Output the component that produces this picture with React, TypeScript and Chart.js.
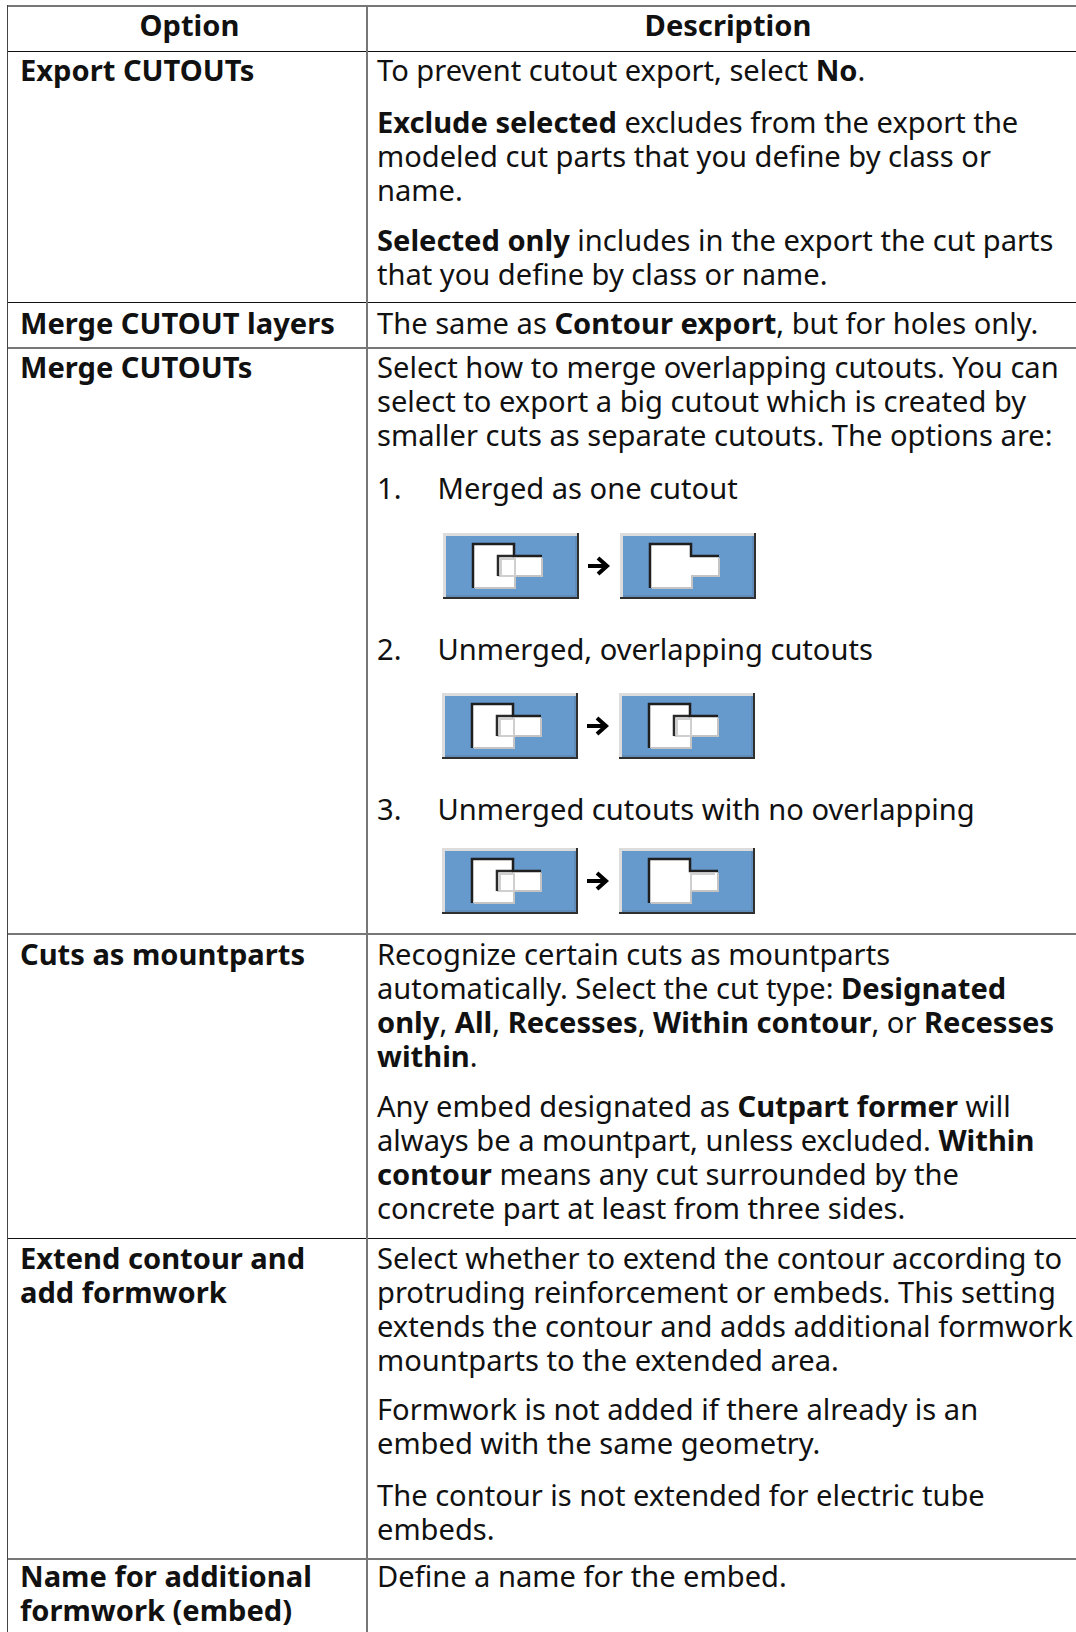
import React, { useEffect, useRef } from "react";
import { Chart, registerables } from "chart.js";

Chart.register(...registerables);

type Pt = { x: number; y: number };
const P = (pairs: number[][]): Pt[] => pairs.map(([x, y]) => ({ x, y }));

const headers = ["Option", "Description"];

const optionNames = [
  ["Export CUTOUTs"],
  ["Merge CUTOUT layers"],
  ["Merge CUTOUTs"],
  ["Cuts as mountparts"],
  ["Extend contour and", "add formwork"],
  ["Name for additional", "formwork (embed)"],
];

const exportDesc = [
  ["To prevent cutout export, select **No**."],
  ["**Exclude selected** excludes from the export the", "modeled cut parts that you define by class or", "name."],
  ["**Selected only** includes in the export the cut parts", "that you define by class or name."],
];
const mergeLayersDesc = [["The same as **Contour export**, but for holes only."]];
const mergeCutoutsDesc = [
  "Select how to merge overlapping cutouts. You can",
  "select to export a big cutout which is created by",
  "smaller cuts as separate cutouts. The options are:",
];
const mergeSteps = ["Merged as one cutout", "Unmerged, overlapping cutouts", "Unmerged cutouts with no overlapping"];
const mountDesc = [
  ["Recognize certain cuts as mountparts", "automatically. Select the cut type: **Designated**", "**only**, **All**, **Recesses**, **Within contour**, or **Recesses**", "**within**."],
  ["Any embed designated as **Cutpart former** will", "always be a mountpart, unless excluded. **Within**", "**contour** means any cut surrounded by the", "concrete part at least from three sides."],
];
const extendDesc = [
  ["Select whether to extend the contour according to", "protruding reinforcement or embeds. This setting", "extends the contour and adds additional formwork", "mountparts to the extended area."],
  ["Formwork is not added if there already is an", "embed with the same geometry."],
  ["The contour is not extended for electric tube", "embeds."],
];
const nameDesc = [["Define a name for the embed."]];

// Icon geometry in icon units: a 136 x 66 button, a cut outline drawn on it
const buttonFace = P([[0, 0], [136, 0], [136, 66], [0, 66], [0, 0]]);
const buttonLight = P([[1.5, 65], [1.5, 1.5], [135, 1.5]]);
const buttonDark = P([[0, 65], [135, 65], [135, 0]]);
const buttonShade = P([[3, 63], [133, 63], [133, 3]]);
const bigCut = P([[30, 11], [71, 11], [71, 23], [99, 23], [99, 43], [71, 43], [71, 55], [30, 55], [30, 11]]);
const outerDark = P([[30, 55], [30, 11], [71, 11], [71, 23], [99, 23]]);
const outerLight = P([[32, 55], [72, 55], [72, 43], [99, 43], [99, 25]]);
const overlapDark = P([[55, 43], [55, 23], [71, 23]]);
const overlapLight = P([[58, 43], [58, 26], [71, 26]]);
const overlapBottom = P([[55, 43], [72, 43]]);
const overlapRight = P([[72, 25], [72, 43]]);
const rightInner = P([[73, 26], [96, 26]]);
const arrowShaft = P([[145, 33], [164, 33]]);
const arrowHead = P([[155, 25], [164, 33], [155, 41]]);

const ICON_OFFSET = 177;
const shift = (pts: Pt[], dx: number) => pts.map((p) => ({ x: p.x + dx, y: p.y }));

type Variant = "merged" | "overlap" | "separate";

function buildDatasets(variant: Variant) {
  const line = (data: Pt[], color: string, width: number) => ({
    type: "scatter" as const,
    data,
    showLine: true,
    borderColor: color,
    borderWidth: width,
    pointRadius: 0,
    tension: 0,
    fill: false,
  });
  const face = (data: Pt[], color: string) => ({
    ...line(data, color, 0),
    fill: "shape" as const,
    backgroundColor: color,
  });
  const button = (dx: number, v: Variant | "source") => {
    const items: any[] = [
      face(shift(buttonFace, dx), "#6699cc"),
      line(shift(buttonLight, dx), "#dcdcdc", 3),
      line(shift(buttonShade, dx), "#5a7ea6", 1),
      line(shift(buttonDark, dx), "#2f2f2f", 2),
      face(shift(bigCut, dx), "#ffffff"),
      line(shift(outerLight, dx), "#c4c4c4", 2),
    ];
    if (v === "source" || v === "overlap") {
      items.push(
        line(shift(overlapBottom, dx), "#cfcfcf", 2),
        line(shift(overlapRight, dx), "#cfcfcf", 2),
        line(shift(overlapLight, dx), "#d0d0d0", 2),
        line(shift(overlapDark, dx), "#2a2a2a", 2.5)
      );
    }
    if (v === "separate") {
      items.push(line(shift(overlapRight, dx), "#cfcfcf", 2), line(shift(rightInner, dx), "#d0d0d0", 2));
    }
    items.push(line(shift(outerDark, dx), "#1f1f1f", 2.5));
    return items;
  };
  const painted = [
    ...button(0, "source"),
    line(arrowShaft, "#000000", 4),
    line(arrowHead, "#000000", 4),
    ...button(ICON_OFFSET, variant),
  ];
  // Chart.js paints the first dataset last, so the list is reversed to keep painter's order
  return painted.reverse();
}

function CutIcons({ variant, left, top }: { variant: Variant; left: number; top: number }) {
  const ref = useRef<HTMLCanvasElement>(null);
  useEffect(() => {
    const chart = new Chart(ref.current!, {
      type: "scatter",
      data: { datasets: buildDatasets(variant) as any },
      options: {
        animation: false,
        responsive: false,
        devicePixelRatio: 1,
        layout: { padding: 0 },
        plugins: { legend: { display: false }, tooltip: { enabled: false } },
        scales: {
          x: { type: "linear", min: 0, max: 313, display: false },
          y: { type: "linear", min: 0, max: 66, reverse: true, display: false },
        },
      },
    });
    return () => chart.destroy();
  }, [variant]);
  return (
    <div style={{ position: "absolute", left, top, width: 313, height: 66 }}>
      <canvas ref={ref} width={313} height={66} style={{ display: "block", width: 313, height: 66 }} />
    </div>
  );
}

const FONT = 29.1;
const LH = 34.1;
const COL1_X = 20;
const COL2_X = 377;
const STEP_X = 437.5;
const COL_LINE = 366;
const TABLE_LEFT = 7;
const PAGE_W = 1076;

function Rich({ text }: { text: string }) {
  const parts = text.split("**");
  return (
    <>
      {parts.map((p, i) => (i % 2 ? <b key={i}>{p}</b> : <span key={i}>{p}</span>))}
    </>
  );
}

function TextLines({ lines, x, top, bold }: { lines: string[]; x: number; top: number; bold?: boolean }) {
  return (
    <>
      {lines.map((l, i) => (
        <div
          key={i}
          style={{
            position: "absolute",
            left: x,
            top: top + i * LH,
            lineHeight: `${LH}px`,
            whiteSpace: "nowrap",
            fontWeight: bold ? 700 : 400,
          }}
        >
          <Rich text={l} />
        </div>
      ))}
    </>
  );
}

const rulesY = [51, 302, 347, 933, 1238, 1558];
const RULE_COLORS = ["#111", "#111", "#777", "#777", "#111", "#777"];
const RULE_H = [1, 1, 2, 2, 1, 2];

export default function App() {
  return (
    <div
      style={{
        position: "fixed",
        left: 0,
        top: 0,
        width: PAGE_W,
        height: 1632,
        overflow: "hidden",
        background: "#fff",
        color: "#111",
        fontFamily: '"Noto Sans", sans-serif',
        fontSize: FONT,
      }}
    >
      <div style={{ position: "absolute", left: TABLE_LEFT, top: 5, width: PAGE_W, height: 2, background: "#777" }} />
      {rulesY.map((y, i) => (
        <div key={y} style={{ position: "absolute", left: TABLE_LEFT, top: y, width: PAGE_W, height: RULE_H[i], background: RULE_COLORS[i] }} />
      ))}
      <div style={{ position: "absolute", left: TABLE_LEFT, top: 5, width: 1, height: 1627, background: "#444" }} />
      <div style={{ position: "absolute", left: COL_LINE, top: 5, width: 2, height: 1627, background: "#777" }} />

      <div style={{ position: "absolute", left: TABLE_LEFT, width: 365, top: 4.5, lineHeight: "40px", textAlign: "center", fontWeight: 700 }}>{headers[0]}</div>
      <div style={{ position: "absolute", left: COL_LINE, width: 724, top: 4.5, lineHeight: "40px", textAlign: "center", fontWeight: 700 }}>{headers[1]}</div>

      <TextLines lines={optionNames[0]} x={COL1_X} top={53.2} bold />
      <TextLines lines={optionNames[1]} x={COL1_X} top={305.5} bold />
      <TextLines lines={optionNames[2]} x={COL1_X} top={350} bold />
      <TextLines lines={optionNames[3]} x={COL1_X} top={936.5} bold />
      <TextLines lines={optionNames[4]} x={COL1_X} top={1240.5} bold />
      <TextLines lines={optionNames[5]} x={COL1_X} top={1559} bold />

      <TextLines lines={exportDesc[0]} x={COL2_X} top={53.2} />
      <TextLines lines={exportDesc[1]} x={COL2_X} top={104.5} />
      <TextLines lines={exportDesc[2]} x={COL2_X} top={223} />
      <TextLines lines={mergeLayersDesc[0]} x={COL2_X} top={305.5} />
      <TextLines lines={mergeCutoutsDesc} x={COL2_X} top={350} />
      <TextLines lines={["1."]} x={COL2_X} top={471} />
      <TextLines lines={[mergeSteps[0]]} x={STEP_X} top={471} />
      <TextLines lines={["2."]} x={COL2_X} top={631.5} />
      <TextLines lines={[mergeSteps[1]]} x={STEP_X} top={631.5} />
      <TextLines lines={["3."]} x={COL2_X} top={791.5} />
      <TextLines lines={[mergeSteps[2]]} x={STEP_X} top={791.5} />
      <TextLines lines={mountDesc[0]} x={COL2_X} top={936.5} />
      <TextLines lines={mountDesc[1]} x={COL2_X} top={1089} />
      <TextLines lines={extendDesc[0]} x={COL2_X} top={1240.5} />
      <TextLines lines={extendDesc[1]} x={COL2_X} top={1392} />
      <TextLines lines={extendDesc[2]} x={COL2_X} top={1477.5} />
      <TextLines lines={nameDesc[0]} x={COL2_X} top={1559} />

      <CutIcons variant="merged" left={443} top={533} />
      <CutIcons variant="overlap" left={442} top={693} />
      <CutIcons variant="separate" left={442} top={848} />
    </div>
  );
}
